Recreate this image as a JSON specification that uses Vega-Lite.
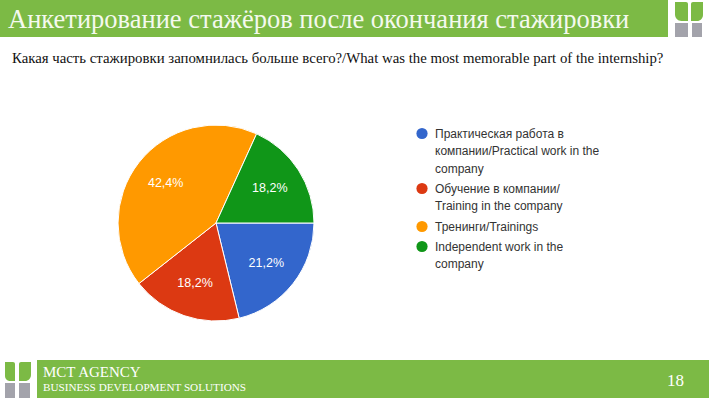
{
  "$schema": "https://vega.github.io/schema/vega-lite/v6.json",
  "width": 709,
  "height": 398,
  "autosize": {"type": "fit", "contains": "padding"},
  "padding": 0,
  "background": "white",
  "config": {
    "view": {"stroke": null},
    "style": {"guide-label": {"lineHeight": 17.5}}
  },
  "datasets": {
    "pie": [
      {"cat": "Практическая работа в компании/Practical work in the company", "value": 21.2, "o": 1},
      {"cat": "Обучение в компании/ Training in the company", "value": 18.2, "o": 2},
      {"cat": "Тренинги/Trainings", "value": 42.4, "o": 3},
      {"cat": "Independent work in the company", "value": 18.2, "o": 4}
    ],
    "title": [{"t": "Анкетирование стажёров после окончания стажировки"}],
    "question": [{"t": "Какая часть стажировки запомнилась больше всего?/What was the most memorable part of the internship?"}],
    "agency": [{"t": "MCT AGENCY"}],
    "slogan": [{"t": "BUSINESS DEVELOPMENT SOLUTIONS"}],
    "page": [{"t": "18"}],
    "one": [{"k": 1}]
  },
  "layer": [
    {
      "data": {"name": "one"},
      "mark": {"type": "rect", "x": 0, "x2": 668, "y": 0, "y2": 37, "fill": "#7cba45"},
      "encoding": {}
    },
    {
      "data": {"name": "one"},
      "mark": {"type": "rect", "x": 37, "x2": 709, "y": 360, "y2": 398, "fill": "#7cba45"},
      "encoding": {}
    },
    {
      "data": {"name": "one"},
      "mark": {"type": "rect", "x": 675, "x2": 688, "y": 2, "y2": 21, "fill": "#7cba45", "cornerRadiusBottomLeft": 9, "cornerRadiusTopRight": 2},
      "encoding": {}
    },
    {
      "data": {"name": "one"},
      "mark": {"type": "rect", "x": 691, "x2": 703, "y": 2, "y2": 21, "fill": "#7cba45", "cornerRadiusBottomRight": 9, "cornerRadiusTopLeft": 2},
      "encoding": {}
    },
    {
      "data": {"name": "one"},
      "mark": {"type": "rect", "x": 675, "x2": 688, "y": 23, "y2": 37, "fill": "#a3a3ab"},
      "encoding": {}
    },
    {
      "data": {"name": "one"},
      "mark": {"type": "rect", "x": 692, "x2": 702, "y": 23, "y2": 37, "fill": "#a3a3ab"},
      "encoding": {}
    },
    {
      "data": {"name": "one"},
      "mark": {"type": "rect", "x": 5, "x2": 15, "y": 362, "y2": 381, "fill": "#7cba45", "cornerRadiusBottomLeft": 8, "cornerRadiusTopRight": 2},
      "encoding": {}
    },
    {
      "data": {"name": "one"},
      "mark": {"type": "rect", "x": 19, "x2": 31, "y": 362, "y2": 381, "fill": "#7cba45", "cornerRadiusBottomRight": 8, "cornerRadiusTopLeft": 2},
      "encoding": {}
    },
    {
      "data": {"name": "one"},
      "mark": {"type": "rect", "x": 5, "x2": 15, "y": 383, "y2": 398, "fill": "#a3a3ab"},
      "encoding": {}
    },
    {
      "data": {"name": "one"},
      "mark": {"type": "rect", "x": 19, "x2": 30, "y": 383, "y2": 398, "fill": "#a3a3ab"},
      "encoding": {}
    },
    {
      "data": {"name": "title"},
      "mark": {"type": "text", "x": 8, "y": 27.5, "align": "left", "baseline": "alphabetic", "font": "Liberation Serif", "fontSize": 26.5, "fill": "#f4f9ee"},
      "encoding": {"text": {"field": "t"}}
    },
    {
      "data": {"name": "question"},
      "mark": {"type": "text", "x": 12, "y": 63, "align": "left", "baseline": "alphabetic", "font": "Liberation Serif", "fontSize": 14.8, "fill": "#111111"},
      "encoding": {"text": {"field": "t"}}
    },
    {
      "data": {"name": "agency"},
      "mark": {"type": "text", "x": 43, "y": 377, "align": "left", "baseline": "alphabetic", "font": "Liberation Serif", "fontSize": 15, "fill": "white"},
      "encoding": {"text": {"field": "t"}}
    },
    {
      "data": {"name": "slogan"},
      "mark": {"type": "text", "x": 43, "y": 391, "align": "left", "baseline": "alphabetic", "font": "Liberation Serif", "fontSize": 11.2, "fill": "white"},
      "encoding": {"text": {"field": "t"}}
    },
    {
      "data": {"name": "page"},
      "mark": {"type": "text", "x": 684, "y": 386, "align": "right", "baseline": "alphabetic", "font": "Liberation Serif", "fontSize": 17, "fill": "white"},
      "encoding": {"text": {"field": "t"}}
    },
    {
      "data": {"name": "pie"},
      "mark": {"type": "arc", "x": 216, "y": 223, "outerRadius": 98, "stroke": "white", "strokeWidth": 1},
      "encoding": {
        "theta": {"field": "value", "type": "quantitative", "stack": true, "scale": {"range": [1.5707963, 7.8539816]}},
        "order": {"field": "o", "type": "quantitative"},
        "color": {
          "field": "cat",
          "type": "nominal",
          "scale": {
            "domain": ["Практическая работа в компании/Practical work in the company", "Обучение в компании/ Training in the company", "Тренинги/Trainings", "Independent work in the company"],
            "range": ["#3366cc", "#dc3912", "#ff9900", "#109618"]
          },
          "legend": {
            "orient": "none",
            "legendX": 416,
            "legendY": 127.5,
            "title": null,
            "symbolType": "circle",
            "symbolSize": 125,
            "symbolStrokeWidth": 0,
            "labelFont": "Liberation Sans",
            "labelFontSize": 12,
            "labelColor": "#333333",
            "labelLimit": 300,
            "labelOffset": 7,
            "rowPadding": 8,
            "labelExpr": "datum.label == 'Тренинги/Trainings' ? 'Тренинги/Trainings' : datum.label == 'Independent work in the company' ? ['Independent work in the', 'company'] : indexof(datum.label, 'Практическая') == 0 ? ['Практическая работа в', 'компании/Practical work in the', 'company'] : ['Обучение в компании/', 'Training in the company']"
          }
        }
      }
    },
    {
      "data": {"name": "pie"},
      "transform": [{"calculate": "replace(format(datum.value, '.1f'), '.', ',') + '%'", "as": "lbl"}],
      "mark": {"type": "text", "x": 216, "y": 223, "radius": 64, "fill": "white", "font": "Liberation Sans", "fontSize": 12.5},
      "encoding": {
        "theta": {"field": "value", "type": "quantitative", "stack": true},
        "order": {"field": "o", "type": "quantitative"},
        "detail": {"field": "cat", "type": "nominal"},
        "text": {"field": "lbl", "type": "nominal"}
      }
    }
  ]
}
